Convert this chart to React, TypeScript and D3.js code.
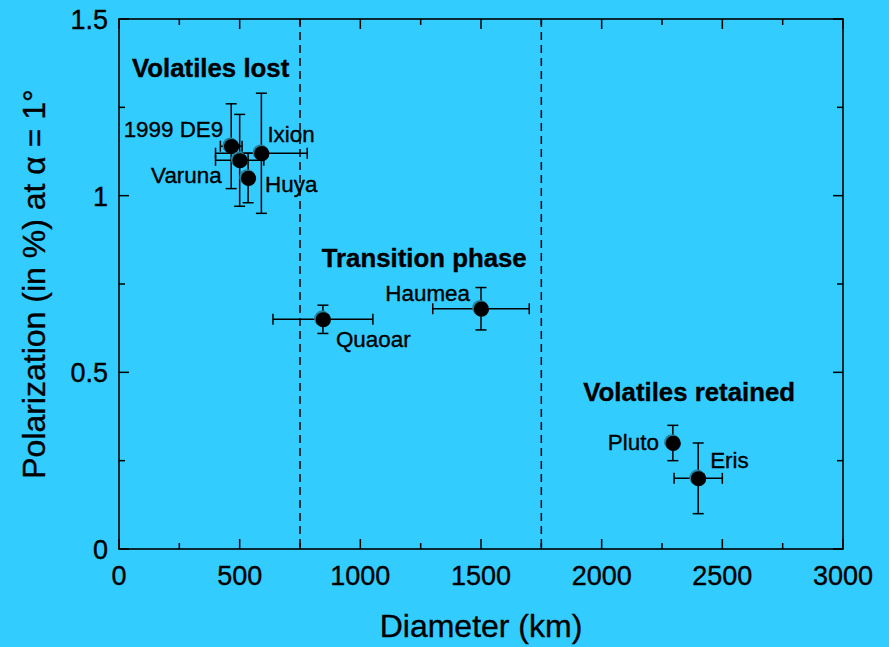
import React from "react";
import * as d3 from "d3";

// ---- data ----
const names = ["1999 DE9", "Varuna", "Ixion", "Huya", "Quaoar", "Haumea", "Pluto", "Eris"];
const diameter = [465, 500, 590, 535, 845, 1500, 2295, 2400];
const diameterErr = [45, 100, 190, 0, 207, 200, 0, 100];
const polarization = [1.14, 1.1, 1.12, 1.05, 0.65, 0.68, 0.3, 0.2];
const polarizationErr = [0.12, 0.13, 0.17, 0.07, 0.04, 0.06, 0.05, 0.1];

const xTicks = [0, 500, 1000, 1500, 2000, 2500, 3000];
const xMinorTicks = [250, 750, 1250, 1750, 2250, 2750];
const yTicks = [0, 0.5, 1, 1.5];
const yTickLabels = ["0", "0.5", "1", "1.5"];
const yMinorTicks = [0.25, 0.75, 1.25];
const dividers = [750, 1750];

const regionNames = ["Volatiles lost", "Transition phase", "Volatiles retained"];
const regionX = [54, 840, 1924];
const regionY = [1.335, 0.799, 0.42];

// label placement (pixel offsets from the point) and anchors
const labelDx = [-8, -18, 6, 17, 13, -11, -14, 12];
const labelDy = [-9, 23, -11, 14, 28, -8, 7, -10];
const labelAnchor = ["end", "end", "start", "start", "start", "end", "end", "start"];

const W = 889;
const H = 647;
const M = { left: 119, right: 843, top: 19, bottom: 549 };
const FONT = "'Liberation Sans', Arial, Helvetica, sans-serif";

export default function App() {
  const x = d3.scaleLinear().domain([0, 3000]).range([M.left, M.right]);
  const y = d3.scaleLinear().domain([0, 1.5]).range([M.bottom, M.top]);
  const cap = 5.5;
  const sw = 1.5;
  const pts = names.map((n, i) => ({
    n,
    cx: x(diameter[i]),
    cy: y(polarization[i]),
    xl: x(diameter[i] - diameterErr[i]),
    xr: x(diameter[i] + diameterErr[i]),
    yt: y(polarization[i] + polarizationErr[i]),
    yb: y(polarization[i] - polarizationErr[i]),
    hasX: diameterErr[i] > 0,
    i,
  }));
  const txt = { fill: "#000", stroke: "#000", strokeWidth: 0.35 };
  return (
    <svg
      width={W}
      height={H}
      style={{ position: "absolute", left: 0, top: 0, display: "block" }}
      fontFamily={FONT}
    >
      <rect x={0} y={0} width={W} height={H} fill="#33CCFF" />
      {/* dividers */}
      {dividers.map((d) => (
        <line
          key={d}
          x1={x(d)}
          x2={x(d)}
          y1={M.top}
          y2={M.bottom}
          stroke="#000"
          strokeWidth={1.5}
          strokeDasharray="8,5"
        />
      ))}
      {/* frame */}
      <rect
        x={M.left}
        y={M.top}
        width={M.right - M.left}
        height={M.bottom - M.top}
        fill="none"
        stroke="#000"
        strokeWidth={1.6}
      />
      {/* x ticks */}
      {xTicks.map((t) => (
        <g key={"xt" + t}>
          <line x1={x(t)} x2={x(t)} y1={M.bottom} y2={M.bottom - 10} stroke="#000" strokeWidth={1.5} />
          <line x1={x(t)} x2={x(t)} y1={M.top} y2={M.top + 10} stroke="#000" strokeWidth={1.5} />
          <text x={x(t)} y={585} textAnchor="middle" fontSize={27} {...txt}>
            {t}
          </text>
        </g>
      ))}
      {xMinorTicks.map((t) => (
        <g key={"xm" + t}>
          <line x1={x(t)} x2={x(t)} y1={M.bottom} y2={M.bottom - 6} stroke="#000" strokeWidth={1.5} />
          <line x1={x(t)} x2={x(t)} y1={M.top} y2={M.top + 6} stroke="#000" strokeWidth={1.5} />
        </g>
      ))}
      {/* y ticks */}
      {yTicks.map((t, i) => (
        <g key={"yt" + t}>
          <line x1={M.left} x2={M.left + 10} y1={y(t)} y2={y(t)} stroke="#000" strokeWidth={1.5} />
          <line x1={M.right} x2={M.right - 10} y1={y(t)} y2={y(t)} stroke="#000" strokeWidth={1.5} />
          <text x={108} y={y(t) + 10} textAnchor="end" fontSize={27} {...txt}>
            {yTickLabels[i]}
          </text>
        </g>
      ))}
      {yMinorTicks.map((t) => (
        <g key={"ym" + t}>
          <line x1={M.left} x2={M.left + 6} y1={y(t)} y2={y(t)} stroke="#000" strokeWidth={1.5} />
          <line x1={M.right} x2={M.right - 6} y1={y(t)} y2={y(t)} stroke="#000" strokeWidth={1.5} />
        </g>
      ))}
      {/* axis titles */}
      <text x={(M.left + M.right) / 2} y={637} textAnchor="middle" fontSize={32} {...txt}>
        Diameter (km)
      </text>
      <text
        transform={`translate(45, ${(M.top + M.bottom) / 2}) rotate(-90)`}
        textAnchor="middle"
        fontSize={32}
        {...txt}
      >
        Polarization (in %) at α = 1°
      </text>
      {/* region titles */}
      {regionNames.map((r, i) => (
        <text key={r} x={x(regionX[i])} y={y(regionY[i])} fontSize={25.8} fontWeight="bold" {...txt}>
          {r}
        </text>
      ))}
      {/* error bars */}
      {pts.map((p) => (
        <g key={"e" + p.n} stroke="#000" strokeWidth={sw}>
          <line x1={p.cx} x2={p.cx} y1={p.yt} y2={p.yb} />
          <line x1={p.cx - cap} x2={p.cx + cap} y1={p.yt} y2={p.yt} />
          <line x1={p.cx - cap} x2={p.cx + cap} y1={p.yb} y2={p.yb} />
          {p.hasX && (
            <>
              <line x1={p.xl} x2={p.xr} y1={p.cy} y2={p.cy} />
              <line x1={p.xl} x2={p.xl} y1={p.cy - cap} y2={p.cy + cap} />
              <line x1={p.xr} x2={p.xr} y1={p.cy - cap} y2={p.cy + cap} />
            </>
          )}
        </g>
      ))}
      {/* markers */}
      {pts.map((p) => (
        <g key={"m" + p.n}>
          <circle cx={p.cx - 0.8} cy={p.cy - 0.8} r={8} fill="#2a7f99" />
          <circle cx={p.cx + 0.4} cy={p.cy + 0.4} r={7.6} fill="#000" />
        </g>
      ))}
      {/* point labels */}
      {pts.map((p) => (
        <text
          key={"l" + p.n}
          x={p.cx + labelDx[p.i]}
          y={p.cy + labelDy[p.i]}
          textAnchor={labelAnchor[p.i] as any}
          fontSize={22.4}
          {...txt}
        >
          {p.n}
        </text>
      ))}
    </svg>
  );
}
